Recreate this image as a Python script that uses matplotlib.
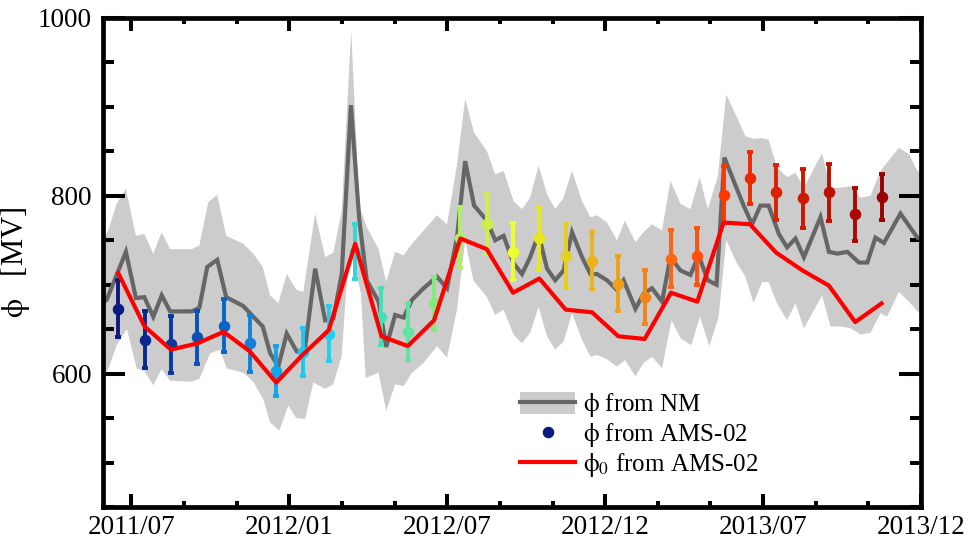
import matplotlib
matplotlib.use("Agg")
import matplotlib.pyplot as plt
from matplotlib.patches import Patch
from matplotlib.lines import Line2D
from matplotlib.ticker import FixedLocator, MultipleLocator

plt.rcParams['font.family'] = ['Liberation Serif', 'DejaVu Serif']
plt.rcParams['mathtext.fontset'] = 'stix'

# ---- data (x in Bartels-rotation index units) ----
tick_pos = [0.5, 6.5, 12.5, 18.5, 24.5, 30.5]
tick_labels = ['2011/07', '2012/01', '2012/07', '2012/12', '2013/07', '2013/12']

ams_x = list(range(30))
ams_phi = [673, 638, 633, 641, 654, 634, 603, 624, 645, 737,
           664, 647, 679, 753, 768, 737, 752, 732, 727, 701,
           686, 729, 732, 801, 820, 804, 797, 804, 779, 799]
ams_err = [32, 32, 32, 30, 30, 32, 28, 27, 31, 31,
           32, 32, 30, 34, 34, 32, 35, 36, 32, 31,
           30, 32, 32, 32, 29, 31, 33, 32, 30, 26]
ams_phi0 = [713, 653, 627, 634, 647, 625, 590, 621, 649, 746,
            642, 631, 660, 752, 740, 691, 707, 672, 669, 642,
            639, 691, 681, 770, 768, 736, 716, 699, 658, 679]
ams_colors = ['#0a1a80', '#08288e', '#0838a0', '#0a50b8', '#0a64c8',
              '#1080d8', '#10a4e8', '#18c8f8', '#20d0f0', '#30d8d8',
              '#48dfb8', '#60e4a0', '#88e880', '#b0f060', '#ccf048',
              '#eeff30', '#e8e820', '#e4d020', '#ecb418', '#f0a018',
              '#f48418', '#ff6410', '#ff5010', '#ff3800', '#ee2800',
              '#dd2000', '#cc1800', '#bb1000', '#aa0800', '#990000']

nm_x = [-0.6, -0.44, 0.29, 0.67, 0.99, 1.33, 1.65, 1.97, 2.79, 3.08,
        3.38, 3.76, 4.10, 4.75, 5.13, 5.49, 5.77, 6.08, 6.40, 6.78,
        7.08, 7.48, 7.86, 8.17, 8.49, 8.84, 9.16, 9.44, 9.89, 10.18,
        10.52, 10.84, 11.16, 11.60, 12.11, 12.49, 12.87, 13.18, 13.52, 14.01,
        14.32, 14.64, 15.02, 15.34, 15.65, 15.97, 16.29, 16.60, 16.92, 17.24,
        17.62, 17.94, 18.19, 18.57, 18.95, 19.20, 19.65, 19.96, 20.28, 20.66,
        20.98, 21.36, 21.74, 22.05, 22.40, 22.73, 23.03, 23.38, 23.76, 24.08,
        24.40, 24.71, 25.10, 25.41, 25.73, 26.05, 26.68, 27.00, 27.32, 27.70,
        28.14, 28.46, 28.77, 29.09, 29.72, 30.36, 30.7]
nm_phi = [680, 683, 737, 685, 686, 664, 688, 670, 670, 674,
          720, 728, 686, 676, 664, 653, 623, 608, 645, 625,
          625, 718, 660, 662, 712, 902, 772, 705, 681, 630,
          666, 663, 683, 696, 709, 696, 753, 839, 789, 772,
          750, 755, 724, 712, 731, 757, 718, 705, 716, 759,
          731, 712, 712, 705, 694, 705, 673, 690, 696, 681,
          731, 716, 711, 733, 705, 700, 843, 817, 789, 768,
          789, 789, 757, 742, 752, 731, 776, 737, 735, 737,
          725, 725, 753, 747, 780, 753, 750]

band_hi_x = [-0.6, -0.38, -0.06, 0.29, 0.67, 0.99, 1.33, 1.65, 1.97, 2.79,
             3.08, 3.42, 3.76, 4.10, 4.75, 5.13, 5.49, 5.77, 6.08, 6.40,
             6.78, 7.03, 7.48, 7.86, 8.17, 8.49, 8.85, 9.16, 9.44, 9.89,
             10.18, 10.52, 10.84, 11.16, 11.60, 12.11, 12.49, 12.87, 13.18, 13.52,
             14.01, 14.32, 14.64, 15.02, 15.34, 15.65, 15.97, 16.29, 16.60, 16.92,
             17.24, 17.62, 17.94, 18.19, 18.57, 18.95, 19.25, 19.65, 19.96, 20.28,
             20.66, 20.98, 21.36, 21.74, 22.09, 22.40, 22.78, 23.10, 23.51, 23.83,
             24.14, 24.46, 24.71, 25.03, 25.41, 25.73, 26.05, 26.74, 27.06, 27.44,
             27.82, 28.20, 28.58, 28.96, 29.66, 30.04, 30.36, 30.7]
band_hi = [750, 761, 791, 808, 755, 757, 735, 759, 740, 740,
           744, 793, 801, 755, 746, 735, 720, 688, 679, 712,
           694, 692, 780, 731, 736, 783, 986, 788, 765, 740,
           703, 737, 733, 746, 761, 778, 768, 835, 909, 871,
           850, 824, 828, 794, 785, 798, 834, 802, 785, 798,
           828, 794, 776, 778, 770, 750, 772, 748, 759, 768,
           761, 817, 791, 785, 821, 785, 822, 914, 888, 867,
           864, 865, 863, 832, 821, 826, 809, 848, 809, 809,
           811, 798, 800, 828, 854, 847, 828, 825]

band_lo_x = [-0.6, -0.38, -0.06, 0.33, 0.70, 0.99, 1.33, 1.65, 1.97, 2.79,
             3.08, 3.49, 3.87, 4.12, 4.75, 5.13, 5.51, 5.77, 6.12, 6.46,
             6.76, 7.10, 7.41, 7.86, 8.17, 8.49, 8.66, 8.84, 9.22, 9.40,
             9.89, 10.18, 10.52, 10.84, 11.16, 11.60, 12.11, 12.49, 12.87, 13.18,
             13.49, 14.01, 14.32, 14.64, 15.02, 15.34, 15.65, 15.97, 16.29, 16.60,
             16.92, 17.24, 17.62, 17.94, 18.19, 18.57, 18.95, 19.26, 19.65, 19.96,
             20.28, 20.66, 21.02, 21.36, 21.77, 22.10, 22.46, 22.81, 23.10, 23.49,
             23.83, 24.14, 24.46, 24.71, 25.03, 25.41, 25.73, 26.05, 26.74, 27.06,
             27.44, 27.82, 28.20, 28.58, 28.96, 29.21, 29.66, 30.04, 30.36, 30.7]
band_lo = [598, 605, 632, 650, 606, 603, 587, 605, 592, 591,
           594, 623, 627, 606, 601, 591, 571, 545, 536, 564,
           550, 549, 590, 583, 588, 620, 695, 740, 690, 595,
           601, 558, 588, 586, 601, 612, 631, 618, 672, 750,
           705, 686, 666, 672, 644, 634, 646, 675, 642, 627,
           636, 668, 638, 619, 621, 616, 608, 615, 597, 612,
           619, 606, 660, 640, 632, 664, 631, 664, 750, 725,
           709, 679, 703, 703, 679, 660, 679, 651, 688, 653,
           653, 651, 644, 646, 668, 664, 692, 681, 670, 668]

# ---- figure ----
fig = plt.figure(figsize=(9.7, 5.4), dpi=100)
ax = fig.add_axes([0.1062, 0.0611, 0.8433, 0.9056])

band_color = '#cccccc'
nm_color = '#666666'

ax.fill(band_hi_x + band_lo_x[::-1], band_hi + band_lo[::-1],
        color=band_color, lw=0, zorder=1)
ax.plot(nm_x, nm_phi, color=nm_color, lw=3.0, zorder=2, solid_joinstyle='miter')

for xi, yi, ei, ci in zip(ams_x, ams_phi, ams_err, ams_colors):
    ax.errorbar(xi, yi, yerr=ei, fmt='o', color=ci, ecolor=ci, ms=7.3,
                elinewidth=2.8, capsize=2.4, capthick=2.8, zorder=3)

ax.plot(ams_x, ams_phi0, color='#ff0000', lw=3.0, zorder=4)

ax.set_xlim(-0.58, 30.5)
ax.set_ylim(450, 1000)

ax.xaxis.set_major_locator(FixedLocator(tick_pos))
ax.set_xticklabels(tick_labels)
ax.xaxis.set_minor_locator(FixedLocator([p + d for p in tick_pos[:-1] for d in (2, 4)]))
ax.yaxis.set_major_locator(FixedLocator([600, 800, 1000]))
ax.yaxis.set_minor_locator(MultipleLocator(50))

ax.tick_params(axis='both', which='both', direction='in', top=True, right=True,
               width=2.9, labelsize=19.5)
ax.tick_params(axis='x', which='major', length=9.5, pad=6)
ax.tick_params(axis='x', which='minor', length=4.5)
ax.tick_params(axis='y', which='major', length=16, pad=8)
ax.tick_params(axis='y', which='minor', length=8)
for sp in ax.spines.values():
    sp.set_linewidth(3.4)

ax.set_ylabel(r'$\mathrm{\phi}$   [MV]', fontsize=22, labelpad=4)

h1 = (Patch(facecolor=band_color, edgecolor='none'),
      Line2D([], [], color=nm_color, lw=3.0))
h2 = Line2D([], [], marker='o', ls='none', color=ams_colors[0], ms=7.3)
h3 = Line2D([], [], color='#ff0000', lw=3.0)
ax.legend([h1, h2, h3],
          [r'$\mathrm{\phi}$ from NM', r'$\mathrm{\phi}$ from AMS-02',
           r'$\mathrm{\phi_0}$ from AMS-02'],
          loc='upper left', bbox_to_anchor=(0.498, 0.257), frameon=False,
          fontsize=18, handlelength=2.2, handleheight=0.95,
          labelspacing=0.08, handletextpad=0.3, borderaxespad=0)

fig.savefig('out.png', dpi=100)
